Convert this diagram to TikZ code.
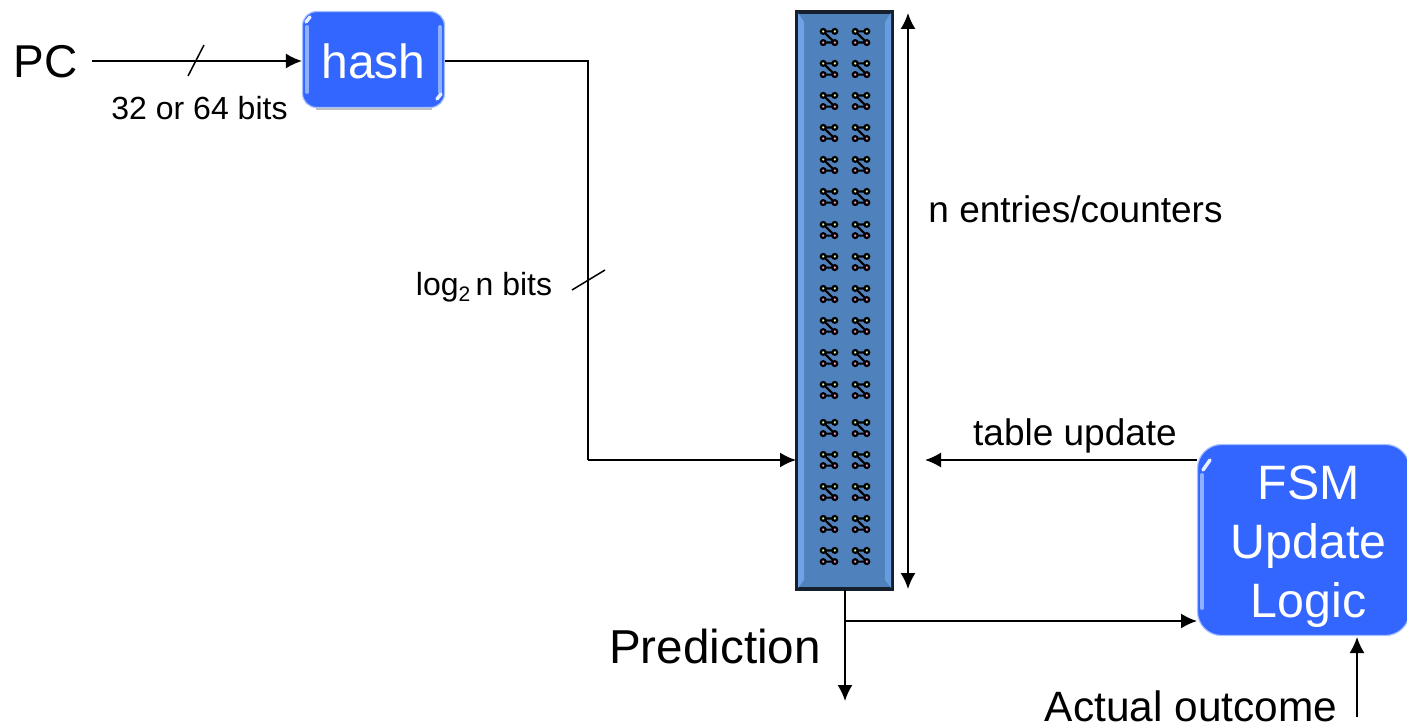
\documentclass[tikz,border=0pt]{standalone}
\usepackage{fontspec}
\setmainfont{Liberation Sans}
\usetikzlibrary{arrows.meta}
\tikzstyle{block}=[draw=blockedge,line width=1.2pt,fill=hashblue,text=white,rounded corners=14pt,inner sep=0pt,align=center]
\tikzstyle{wire}=[line width=1.7pt,-{Latex[length=16pt,width=15pt]}]
\tikzstyle{plainwire}=[line width=1.7pt]
\tikzstyle{tick}=[line width=1.5pt]
\tikzstyle{shine}=[line width=4pt,line cap=round,draw=shineblue]
\tikzstyle{glint}=[line width=3.5pt,line cap=round,draw=white!80!shineblue]
\tikzstyle{label}=[inner sep=0pt]
\definecolor{hashblue}{HTML}{3366FF}
\definecolor{blockedge}{HTML}{A9C0FF}
\definecolor{shineblue}{HTML}{8FB0FF}
\definecolor{tableblue}{HTML}{4F81BD}
\definecolor{bevelblue}{HTML}{6FA3E6}
\definecolor{edgeblue}{HTML}{16202C}
\definecolor{dotgreen}{HTML}{CCFFAA}
\definecolor{dotpink}{HTML}{FF99CC}
\begin{document}
\begin{tikzpicture}[x=1pt,y=-1pt]
      \useasboundingbox (0,0) rectangle (1407,725);
      % table of counters
      \node (table) [draw=edgeblue,line width=3.5pt,fill=tableblue,minimum width=96pt,minimum height=577pt,inner sep=0pt] at (844.5,300.5) {};
      \fill [bevelblue] (798,13) -- (804,22) -- (804,580) -- (798,588) -- cycle;
      \fill [bevelblue!80!tableblue] (891,13) -- (885,22) -- (885,580) -- (891,588) -- cycle;
      \foreach \y in {37,69,101,133,165,197,230,262,294,326,358,390,428,460,492,524,556}
        \foreach \x in {829,861} {
          \draw [line width=2.2pt] (\x-5.8,\y-5.6) -- (\x+5.8,\y-5.6) (\x-5.8,\y-5.6) -- (\x+5.8,\y+5.6) (\x-5.8,\y+5.6) -- (\x+5.8,\y+5.6);
          \draw [line width=2.2pt,fill=dotgreen] (\x-5.8,\y-5.6) circle (2.4pt) (\x+5.8,\y-5.6) circle (2.4pt);
          \draw [line width=2.2pt,fill=dotpink] (\x-5.8,\y+5.6) circle (2.4pt) (\x+5.8,\y+5.6) circle (2.4pt);
        }
      % blocks
      \draw [line width=2pt,draw=black!25] (316,108.5) -- (432,108.5);
      \node (hash) [block,minimum width=142pt,minimum height=96pt,font=\fontsize{48}{56}\selectfont,text depth=0pt] at (373.5,59.5) {\raisebox{-3pt}{hash}};
      \draw [shine] (307,27) -- (307,92) (440,27) -- (440,92);
      \draw [glint] (306,22) -- (310,17) (437,99) -- (441,94);
      \node (fsm) [block,rounded corners=24pt,minimum width=212pt,minimum height=191pt,font=\fontsize{48.3}{59}\selectfont] at (1303.5,540) {};
      \node (fsmtext) [label,text=white,align=center,font=\fontsize{48.3}{59}\selectfont] at (1308.5,547) {FSM\\Update\\Logic};
      \draw [shine] (1202,475) -- (1202,608);
      \draw [glint] (1203,470) -- (1210,460);
      % labels
      \node (pc) [label,font=\fontsize{46}{54}\selectfont] at (45.5,62) {PC};
      \node (width) [label,font=\fontsize{32}{38}\selectfont] at (199.5,108) {32 or 64 bits};
      \node (logbits) [label,font=\fontsize{32}{38}\selectfont] at (484,287) {log\raisebox{-6pt}{\fontsize{21}{24}\selectfont 2}\,n bits};
      \node (entries) [label,font=\fontsize{37}{44}\selectfont] at (1075.5,209) {n entries/counters};
      \node (update) [label,font=\fontsize{37}{44}\selectfont] at (1075,436) {table update};
      \node (prediction) [label,font=\fontsize{47.6}{56}\selectfont] at (715,646) {Prediction};
      \node (actual) [label,font=\fontsize{42.4}{50}\selectfont] at (1191,706) {Actual outcome};
      % free ends
      \coordinate (pcstart) at (92,61);
      \coordinate (hashout) at (445,61);
      \coordinate (bend) at (588,460);
      \coordinate (tablein) at (796,460);
      \coordinate (spantop) at (908,13);
      \coordinate (spanbot) at (908,589);
      \coordinate (updatestart) at (1197,460);
      \coordinate (updateend) at (925,460);
      \coordinate (tableout) at (845,590);
      \coordinate (predend) at (845,701);
      \coordinate (branch) at (845,621);
      \coordinate (fsmin) at (1197,621);
      \coordinate (actualstart) at (1357,717);
      \coordinate (actualend) at (1357,637);
      % connectors
      \draw [wire] (pcstart) -- (hash.west |- pcstart);
      \draw [tick] (188,76) -- (204,45);
      \draw [plainwire] (hashout) -| (bend);
      \draw [wire] (bend) -- (tablein);
      \draw [tick] (572,290) -- (605,270);
      \draw [wire,{Latex[length=16pt,width=15pt]}-{Latex[length=16pt,width=15pt]}] (spantop) -- (spanbot);
      \draw [wire] (updatestart) -- (updateend);
      \draw [wire] (tableout) -- (predend);
      \draw [wire] (branch) -- (fsmin);
      \draw [wire] (actualstart) -- (actualend);
\end{tikzpicture}
\end{document}
